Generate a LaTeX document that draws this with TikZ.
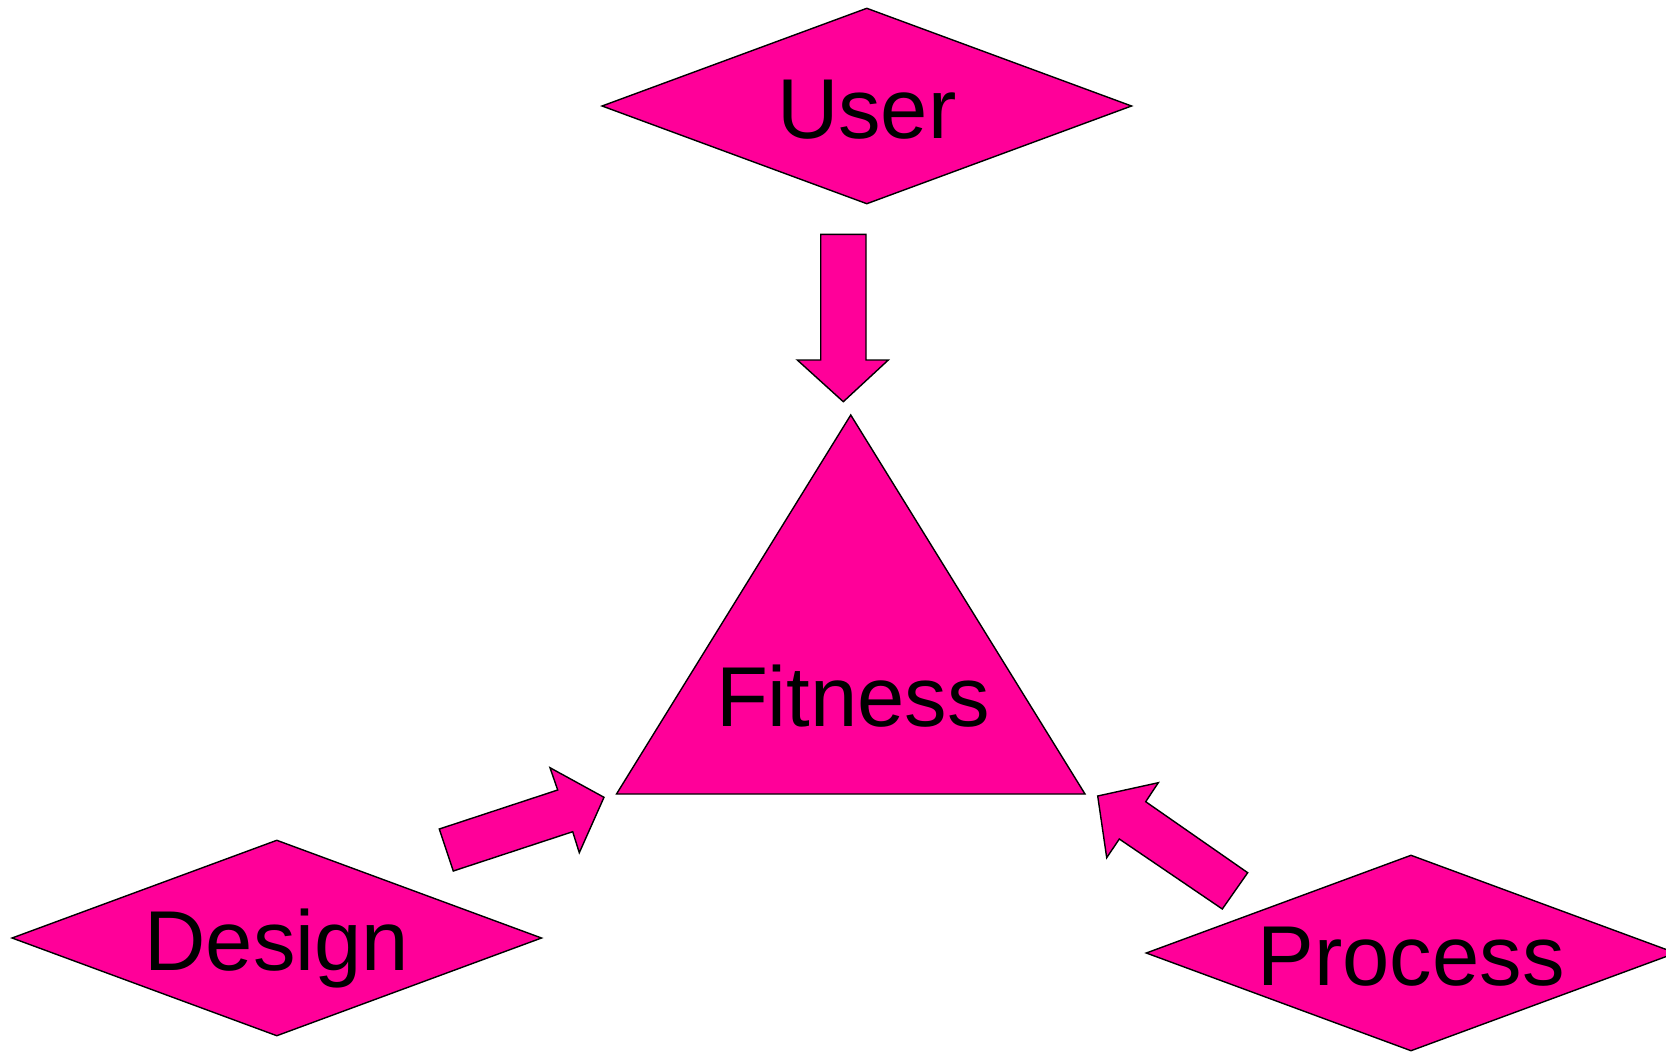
\documentclass[tikz,border=0pt]{standalone}
\usepackage{fontspec}
\setmainfont{Liberation Sans}
\usetikzlibrary{shapes.geometric}
\definecolor{hotpink}{RGB}{255,0,153}
\tikzset{
  shapefill/.style={fill=hotpink, draw=black, line width=1.4pt, line join=miter},
  dia/.style={shapefill, shape=diamond, shape aspect=2.7, inner sep=0pt,
    minimum width=530pt, minimum height=196pt,
    font=\fontsize{85}{100}\selectfont, text height=65pt, text depth=0pt},
  lbl/.style={inner sep=0pt, font=\fontsize{85}{100}\selectfont, text height=61.5pt, text depth=0pt}
}
\begin{document}
\begin{tikzpicture}[x=1pt,y=-1pt]
\useasboundingbox (0,0) rectangle (1666,1052);
% diamonds
\node[dia] (user) at (866.8,106) {User};
\node[dia] (design) at (276.8,938) {Design};
\node[dia] (process) at (1411,953) {Process};
% triangle
\coordinate (apex) at (850.75,415);
\coordinate (bl) at (616.5,794);
\coordinate (br) at (1085,794);
\draw[shapefill] (apex) -- (bl) -- (br) -- cycle;
\node[lbl] (fitness) at (853,695.8) {Fitness};
% block arrows
\draw[shapefill] (820.7,234.3) -- (866,234.3) -- (866,360) -- (888.3,360)
  -- (843.3,401.7) -- (797.3,360) -- (820.7,360) -- cycle;
\draw[shapefill] (439.3,829) -- (557.7,790) -- (550,767.7) -- (604,797.3)
  -- (579.3,852.7) -- (572.7,831.7) -- (453.3,871) -- cycle;
\draw[shapefill] (1097.7,796) -- (1158.3,782.7) -- (1145.7,801.7) -- (1247.7,872.7)
  -- (1222.3,909) -- (1119.3,839) -- (1106.7,857.7) -- cycle;
\end{tikzpicture}
\end{document}
